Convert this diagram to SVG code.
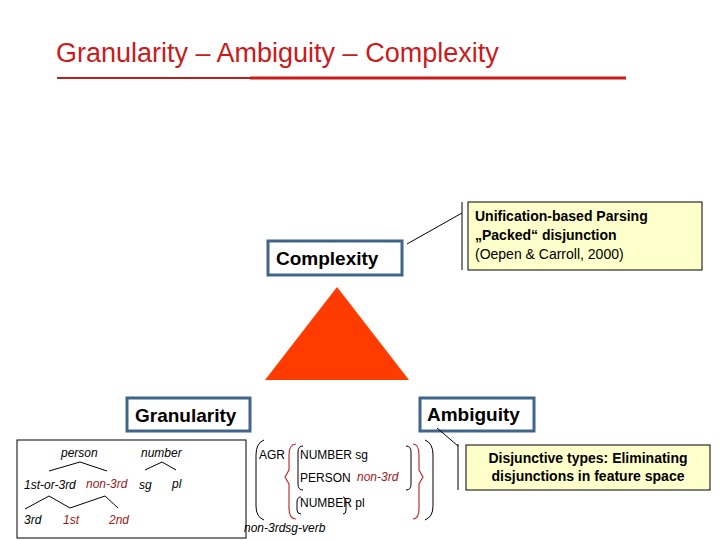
<svg xmlns="http://www.w3.org/2000/svg" width="720" height="540" viewBox="0 0 720 540">
<style>
.box{fill:#fff;stroke:#41658a;stroke-width:3}
.lbl{font-family:"Liberation Sans",Arial,sans-serif;font-weight:bold;font-size:19px;fill:#000}
.note{fill:#ffffcc;stroke:#000;stroke-width:1}
.nt{font-family:"Liberation Sans",Arial,sans-serif;font-size:14px;fill:#000}
.it{font-family:"Liberation Sans",Arial,sans-serif;font-style:italic;font-size:12px;fill:#000}
.red{fill:#a01818}
.sm{font-family:"Liberation Sans",Arial,sans-serif;font-size:12px;fill:#000}
.ln{stroke:#000;stroke-width:1;fill:none}
.rl{stroke:#c03030;stroke-width:1.2;fill:none}
</style>
<rect width="720" height="540" fill="#fff"/>
<text x="56" y="62" font-family="Liberation Sans,Arial,sans-serif" font-size="27" fill="#cc1a1a">Granularity – Ambiguity – Complexity</text>
<line x1="57" y1="78" x2="250" y2="78" stroke="#b52020" stroke-width="2"/>
<line x1="250" y1="78" x2="626" y2="78" stroke="#cc1a1a" stroke-width="3"/>
<g id="triangle"><polygon points="337,287 265,380 409,380" fill="#ff3b00"/></g>
<g id="complexity"><rect class="box" x="268" y="241" width="134" height="34"/><text class="lbl" x="276" y="265">Complexity</text></g>
<g id="granularity"><rect class="box" x="127" y="398" width="123" height="33"/><text class="lbl" x="135" y="422">Granularity</text></g>
<g id="ambiguity"><rect class="box" x="420" y="398" width="114" height="33"/><text class="lbl" x="427" y="421">Ambiguity</text></g>
<g id="connectors">
<line class="ln" x1="407" y1="244" x2="462" y2="213"/>
<line class="ln" x1="462" y1="202" x2="462" y2="270"/>
<line class="ln" x1="437" y1="428" x2="458" y2="446"/>
<line class="ln" x1="458" y1="444" x2="458" y2="490"/>
</g>
<g id="note1"><rect class="note" x="468" y="202" width="234" height="68"/>
<text class="nt" x="475" y="221" font-weight="bold">Unification-based Parsing</text>
<text class="nt" x="475" y="240" font-weight="bold">„Packed“ disjunction</text>
<text class="nt" x="475" y="259" fill="#333">(Oepen &amp; Carroll, 2000)</text></g>
<g id="note2"><rect class="note" x="466" y="445" width="244" height="45"/>
<text class="nt" x="588" y="463" font-weight="bold" text-anchor="middle">Disjunctive types: Eliminating</text>
<text class="nt" x="588" y="481" font-weight="bold" text-anchor="middle">disjunctions in feature space</text></g>
<g id="tree">
<rect x="17" y="440" width="229" height="98" fill="#fff" stroke="#000" stroke-width="1"/>
<text class="it" x="61" y="457">person</text>
<text class="it" x="141" y="457">number</text>
<polyline class="ln" points="49,471 80,462 107,471"/>
<polyline class="ln" points="145,470 162,462 176,470"/>
<text class="it" x="24" y="489">1st-or-3rd</text>
<text class="it red" x="86" y="488">non-3rd</text>
<text class="it" x="139" y="489">sg</text>
<text class="it" x="172" y="488">pl</text>
<polyline class="ln" points="25,509 49,496 70,508 105,496 118,508"/>
<text class="it" x="24" y="524">3rd</text>
<text class="it red" x="63" y="524">1st</text>
<text class="it red" x="109" y="524">2nd</text>
</g>
<g id="avm">
<path class="ln" d="M264,440 Q256,443 256,455 L256,506 Q256,517 264,520"/>
<text class="sm" x="259" y="459">AGR</text>
<path class="rl" d="M296,444 Q289,444 289,455 L289,470 L285,477 L289,484 L289,508 Q289,519 296,519"/>
<path class="ln" d="M303,446 Q298,446 298,452 L298,484 Q298,490 303,490"/>
<text class="sm" x="300" y="459">NUMBER  sg</text>
<text class="sm" x="300" y="482">PERSON</text>
<text class="it red" x="357" y="481">non-3rd</text>
<path class="ln" d="M406,446 Q411,446 411,452 L411,484 Q411,490 406,490"/>
<path class="ln" d="M301,497 Q297,497 297,502 L297,510 Q297,514 301,514"/>
<text class="sm" x="300" y="507">NUMBER  pl</text>
<path class="ln" d="M343,497 Q346,497 346,502 L346,510 Q346,514 343,514"/>
<path class="rl" d="M413,444 Q419,444 419,455 L419,470 L423,477 L419,484 L419,508 Q419,519 413,519"/>
<path class="ln" d="M425,440 Q433,443 433,455 L433,506 Q433,517 425,520"/>
<text class="it" x="244" y="532">non-3rdsg-verb</text>
</g>
</svg>
